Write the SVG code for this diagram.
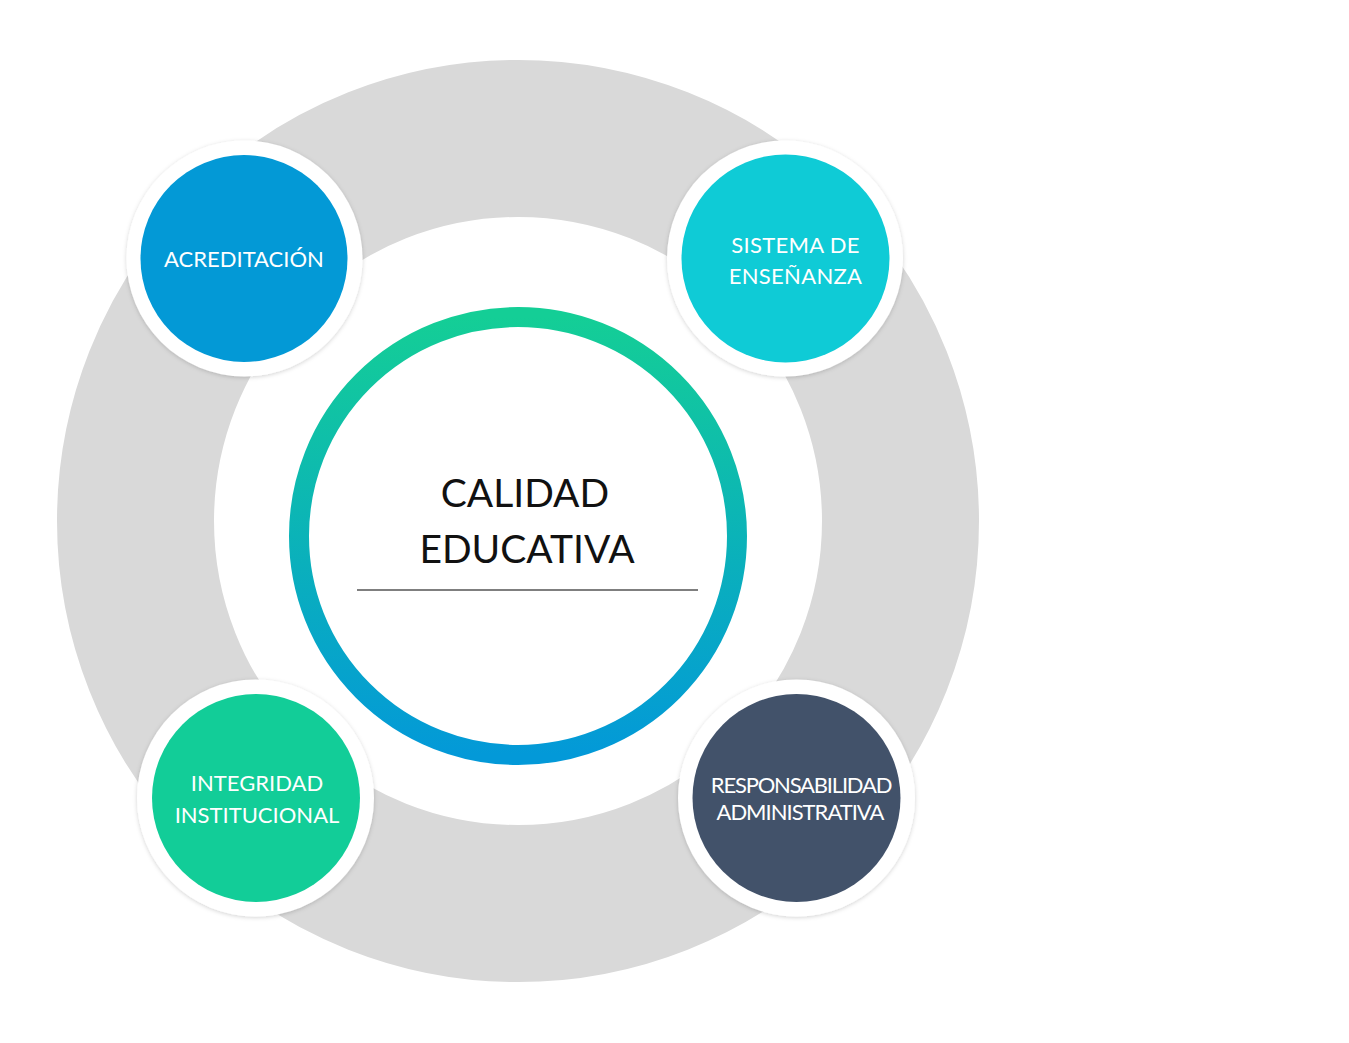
<svg xmlns="http://www.w3.org/2000/svg" width="1349" height="1043" viewBox="0 0 1349 1043">
<defs>
<linearGradient id="ringGrad" x1="0" y1="0" x2="0" y2="1">
<stop offset="0" stop-color="#14CE96"/>
<stop offset="0.5" stop-color="#0BB3B8"/>
<stop offset="1" stop-color="#0399D8"/>
</linearGradient>
<filter id="shadow" x="-20%" y="-20%" width="140%" height="140%">
<feDropShadow dx="0" dy="1" stdDeviation="2" flood-color="#000" flood-opacity="0.18"/>
</filter>
<style>
.lbl{font-family:Lato,"Open Sans","Liberation Sans",sans-serif;fill:#fff;font-size:22px;text-anchor:middle}
.ctr{font-family:Lato,"Open Sans","Liberation Sans",sans-serif;fill:#111;font-size:39px;text-anchor:middle}
.halo{fill:#fff;filter:url(#shadow)}
</style>
</defs>
<rect width="1349" height="1043" fill="#fff"/>
<g id="background-ring">
<circle cx="518" cy="521" r="382.5" fill="none" stroke="#D9D9D9" stroke-width="157"/>
</g>
<g id="center">
<circle cx="518" cy="536" r="219" fill="#fff" stroke="url(#ringGrad)" stroke-width="20"/>
<text class="ctr" x="525" y="507">CALIDAD</text>
<text class="ctr" x="527" y="563">EDUCATIVA</text>
<line x1="357" y1="590" x2="698" y2="590" stroke="#555" stroke-width="1.3"/>
</g>
<g id="acreditacion">
<circle class="halo" cx="244.5" cy="258.5" r="118"/>
<circle cx="244" cy="258.5" r="103.5" fill="#0399D6"/>
<text class="lbl" x="244" y="267">ACREDITACIÓN</text>
</g>
<g id="sistema-de-ensenanza">
<circle class="halo" cx="785" cy="258.5" r="118"/>
<circle cx="785.5" cy="258.5" r="104" fill="#0FCBD6"/>
<text class="lbl" x="795.5" y="253" letter-spacing="0.3">SISTEMA DE</text>
<text class="lbl" x="795.5" y="284" letter-spacing="0.3">ENSEÑANZA</text>
</g>
<g id="integridad-institucional">
<circle class="halo" cx="255.5" cy="798" r="118.5"/>
<circle cx="256" cy="798" r="104" fill="#12CD98"/>
<text class="lbl" x="257" y="791">INTEGRIDAD</text>
<text class="lbl" x="257" y="823">INSTITUCIONAL</text>
</g>
<g id="responsabilidad-administrativa">
<circle class="halo" cx="796.5" cy="798" r="118.5"/>
<circle cx="796.5" cy="798" r="104" fill="#42526A"/>
<text class="lbl" x="801" y="793" letter-spacing="-1.2">RESPONSABILIDAD</text>
<text class="lbl" x="800" y="820" letter-spacing="-1">ADMINISTRATIVA</text>
</g>
<g id="connectors"></g>
</svg>
